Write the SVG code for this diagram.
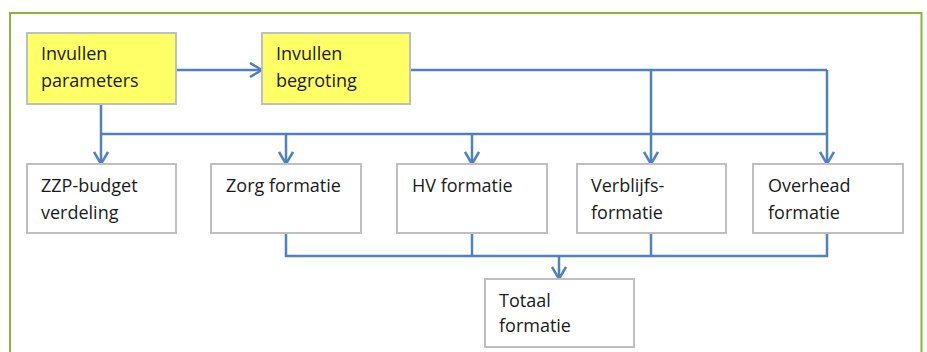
<svg xmlns="http://www.w3.org/2000/svg" width="927" height="352" viewBox="0 0 927 352">
<style>
.frame{fill:none;stroke:#8DB43A;stroke-width:2}
.box{fill:#FFFFFF;stroke:#BFBFBF;stroke-width:2}
.yel{fill:#FFFF66;stroke:#BFBFBF;stroke-width:2}
.lbl{font-family:"Open Sans","Liberation Sans",Arial,sans-serif;font-size:18px;fill:#1A1A1A}
.con{fill:none;stroke:#4F81BD;stroke-width:2.5}
</style>
<defs>
<marker id="arr" viewBox="0 0 14 16" refX="13" refY="8" markerWidth="14" markerHeight="16" markerUnits="userSpaceOnUse" orient="auto">
<path d="M1,1 L13,8 L1,15" fill="none" stroke="#4F81BD" stroke-width="2.5"/>
</marker>
</defs>
<rect x="0" y="0" width="927" height="352" fill="#FFFFFF"/>
<rect class="frame" x="10" y="13" width="911.5" height="360"/>
<g id="connectors">
<path class="con" d="M176,70 H262" marker-end="url(#arr)"/>
<path class="con" d="M410,70 H827"/>
<path class="con" d="M651,70 V164" marker-end="url(#arr)"/>
<path class="con" d="M827,70 V164" marker-end="url(#arr)"/>
<path class="con" d="M101,104 V164" marker-end="url(#arr)"/>
<path class="con" d="M101,134 H827"/>
<path class="con" d="M286,134 V164" marker-end="url(#arr)"/>
<path class="con" d="M472,134 V164" marker-end="url(#arr)"/>
<path class="con" d="M286,233 V256 H827 V233"/>
<path class="con" d="M472,233 V256"/>
<path class="con" d="M651,233 V256"/>
<path class="con" d="M559,256 V279" marker-end="url(#arr)"/>
</g>
<g id="invullen-parameters">
<rect class="yel" x="27" y="33" width="149" height="71"/>
<text class="lbl" x="41" y="60">Invullen</text>
<text class="lbl" x="41" y="87">parameters</text>
</g>
<g id="invullen-begroting">
<rect class="yel" x="262" y="33" width="148" height="71"/>
<text class="lbl" x="276" y="60">Invullen</text>
<text class="lbl" x="276" y="87">begroting</text>
</g>
<g id="zzp-budget">
<rect class="box" x="27" y="164" width="149" height="69"/>
<text class="lbl" x="41" y="192">ZZP-budget</text>
<text class="lbl" x="41" y="219">verdeling</text>
</g>
<g id="zorg-formatie">
<rect class="box" x="211" y="164" width="150" height="69"/>
<text class="lbl" x="226" y="192">Zorg formatie</text>
</g>
<g id="hv-formatie">
<rect class="box" x="397" y="164" width="150" height="69"/>
<text class="lbl" x="412" y="192">HV formatie</text>
</g>
<g id="verblijfs-formatie">
<rect class="box" x="577" y="164" width="149" height="69"/>
<text class="lbl" x="591" y="192">Verblijfs-</text>
<text class="lbl" x="591" y="219">formatie</text>
</g>
<g id="overhead-formatie">
<rect class="box" x="753" y="164" width="150" height="69"/>
<text class="lbl" x="768" y="192">Overhead</text>
<text class="lbl" x="768" y="219">formatie</text>
</g>
<g id="totaal-formatie">
<rect class="box" x="485" y="279" width="149" height="68"/>
<text class="lbl" x="499" y="307">Totaal</text>
<text class="lbl" x="499" y="332">formatie</text>
</g>
</svg>
